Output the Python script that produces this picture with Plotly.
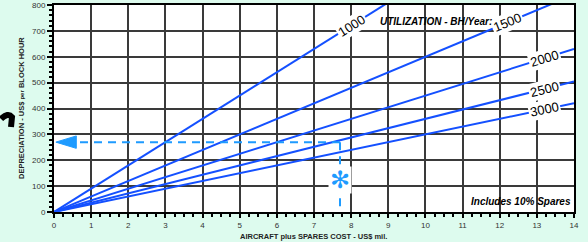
import plotly.graph_objects as go

# ---- data ----
cost_mil = [0, 2, 4, 6, 8, 10, 12, 14]
utilization = ["1000", "1500", "2000", "2500", "3000"]
dep_1000 = [0, 180, 360, 540, 720, 900, 1080, 1260]
dep_1500 = [0, 120, 240, 360, 480, 600, 720, 840]
dep_2000 = [0, 90, 180, 270, 360, 450, 540, 630]
dep_2500 = [0, 72, 144, 216, 288, 360, 432, 504]
dep_3000 = [0, 60, 120, 180, 240, 300, 360, 420]
series = [dep_1000, dep_1500, dep_2000, dep_2500, dep_3000]

# label positions (x on each line) and angles
label_x = [8.02, 12.2, 13.2, 13.2, 13.2]
label_angle = [-32, -22, -17, -14, -12]

# example reading
example_cost = 7.7
example_dep = 270

LINE_BLUE = "#1450ff"
DASH_BLUE = "#1e9bff"
FONT = "Arial, Liberation Sans, sans-serif"

fig = go.Figure()
for name, ys in zip(utilization, series):
    fig.add_trace(go.Scatter(x=cost_mil, y=ys, mode="lines", name=name,
                             line=dict(color=LINE_BLUE, width=2),
                             showlegend=False, hoverinfo="skip"))

def interp(xs, ys, x):
    for i in range(len(xs) - 1):
        if xs[i] <= x <= xs[i + 1]:
            t = (x - xs[i]) / (xs[i + 1] - xs[i])
            return ys[i] + t * (ys[i + 1] - ys[i])
    return ys[-1]

annotations = []
for name, ys, lx, ang in zip(utilization, series, label_x, label_angle):
    annotations.append(dict(x=lx, y=interp(cost_mil, ys, lx), xref="x", yref="y",
                            text=name, showarrow=False, textangle=ang,
                            bgcolor="white", borderpad=1,
                            xanchor="center", yanchor="middle",
                            font=dict(family=FONT, size=13, color="black")))

# dashed example lines
shapes = [
    dict(type="line", xref="x", yref="y", x0=example_cost, x1=0.55,
         y0=example_dep, y1=example_dep,
         line=dict(color=DASH_BLUE, width=2, dash="8px,6px")),
    dict(type="line", xref="x", yref="y", x0=example_cost, x1=example_cost,
         y0=example_dep, y1=0,
         line=dict(color=DASH_BLUE, width=2, dash="8px,6px")),
    dict(type="path", xref="x", yref="y",
         path=f"M 0.05 {example_dep} L 0.6 {example_dep + 24} L 0.6 {example_dep - 24} Z",
         fillcolor=DASH_BLUE, line=dict(color=DASH_BLUE, width=1)),
]

# plot area in pixels
L, R, T, B = 54, 14, 5, 30
W, H = 588, 242
pw, ph = W - L - R, H - T - B

def px(xpix):
    return (xpix - L) / pw

def py(ypix):
    return 1 - (ypix - T) / ph

# black mark at the left edge
shapes.append(dict(type="path", xref="paper", yref="paper",
                   path=f"M {px(1)} {py(119)} Q {px(8)} {py(112)} {px(12)} {py(117)} L {px(11)} {py(127)}",
                   line=dict(color="black", width=6)))

annotations += [
    dict(x=example_cost, y=123, xref="x", yref="y", text="✻", showarrow=False,
         bgcolor="white", font=dict(family="DejaVu Sans", size=24, color=DASH_BLUE),
         height=26, width=22, borderpad=0,
         xanchor="center", yanchor="middle"),
    dict(x=px(436), y=py(21), xref="paper", yref="paper",
         text="<b><i>UTILIZATION - BH/Year:</i></b>",
         xanchor="center", yanchor="middle",
         showarrow=False, font=dict(family=FONT, size=10, color="black")),
    dict(x=px(521), y=py(201), xref="paper", yref="paper",
         text="<b><i>Includes 10% Spares</i></b>", showarrow=False,
         xanchor="center", yanchor="middle",
         font=dict(family=FONT, size=10, color="black")),
    dict(x=px(313), y=py(236), xref="paper", yref="paper",
         text="<b>AIRCRAFT plus SPARES COST - US$ mil.</b>", showarrow=False,
         xanchor="center", yanchor="middle",
         font=dict(family=FONT, size=7.5, color="#222")),
    dict(x=px(21), y=py(108), xref="paper", yref="paper", textangle=-90,
         text="<b>DEPRECIATION - US$ <span style='font-size:6px'>per</span> BLOCK HOUR</b>",
         xanchor="center", yanchor="middle",
         showarrow=False, font=dict(family=FONT, size=7.5, color="#222")),
]

fig.update_layout(
    width=W, height=H,
    margin=dict(l=L, r=R, t=T, b=B, autoexpand=False),
    paper_bgcolor="#ddfbee",
    plot_bgcolor="white",
    font=dict(family=FONT, size=8, color="#333"),
    shapes=shapes,
    annotations=annotations,
    xaxis=dict(range=[0, 14], dtick=1, tick0=0, showgrid=True,
               gridcolor="#3a3a3a", gridwidth=1.5, automargin=False,
               showline=True, linecolor="black", linewidth=2, mirror=True,
               ticks="outside", ticklen=4, tickcolor="black", tickwidth=1.5,
               minor=dict(dtick=0.25, ticks="outside", ticklen=3, tickcolor="black",
                          showgrid=False),
               tickfont=dict(size=8, color="#333"), zeroline=False),
    yaxis=dict(range=[0, 800], dtick=100, tick0=0, showgrid=True,
               gridcolor="#3a3a3a", gridwidth=1.5, automargin=False,
               showline=True, linecolor="black", linewidth=2, mirror=True,
               ticks="outside", ticklen=5, tickcolor="black", tickwidth=1.5,
               minor=dict(dtick=20, ticks="outside", ticklen=3, tickcolor="black",
                          showgrid=False),
               tickfont=dict(size=8, color="#333"), zeroline=False),
)

fig.write_html("out.html", config={"displayModeBar": False},
               post_script="document.body.style.margin='0';document.body.style.background='#ddfbee';")
